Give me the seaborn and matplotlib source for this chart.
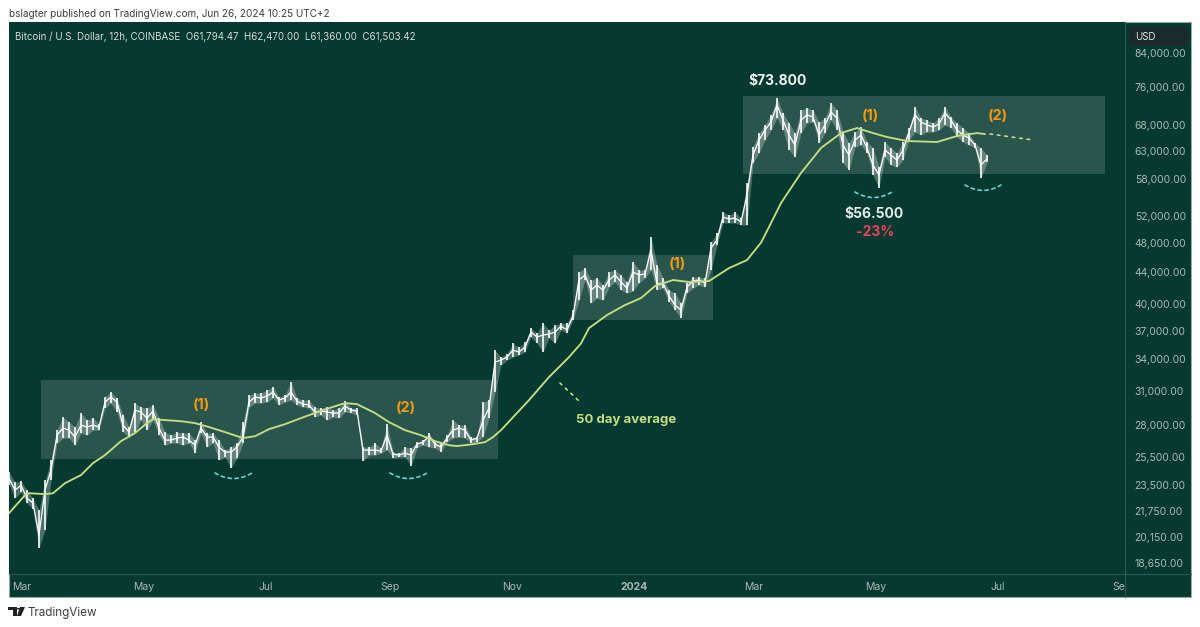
#!/usr/bin/env python3
"""Bitcoin 12h chart, TradingView look, dark green."""

import matplotlib
matplotlib.use("Agg")
import matplotlib.pyplot as plt
import matplotlib.dates as mdates
from matplotlib.patches import Rectangle, FancyBboxPatch, Polygon, Circle
from matplotlib.transforms import Bbox
import pandas as pd
import seaborn as sns

# one bar every 3 days from the left edge of the chart
first_bar = "2023-02-22 12:00"
bar_step_days = 3

highs = [
    24400, 23670, 23740, 23120, 22580, 21790, 23810, 25260, 27600, 28680,
    28260, 27850, 29030, 28430, 28600, 28090, 30430, 30880, 30340, 28850,
    27850, 29890, 29540, 29450, 29720, 28600, 27440, 27190, 27440, 27360,
    27360, 26800, 28260, 27360, 27360, 26800, 26020, 26250, 26560, 28260,
    30610, 30790, 30790, 31060, 31350, 30430, 30610, 31810, 30340, 30160,
    30160, 29540, 29450, 29540, 29280, 29450, 30070, 29450, 29450, 26250,
    26250, 26560, 26180, 28090, 25870, 25790, 26250, 26180, 26640, 26800,
    27360, 26640, 26560, 27190, 28430, 28010, 28010, 27040, 27040, 29980,
    30160, 34960, 34240, 34600, 35650, 35250, 35790, 37300, 36760, 37850,
    37090, 37630, 37850, 37850, 39340, 44010, 44530, 42990, 43240, 42350,
    44010, 44270, 43630, 42740, 45330, 44270, 44270, 48800, 44930, 43240,
    41730, 41360, 40160, 42610, 43370, 43370, 43240, 48080, 49380, 52540,
    52070, 52540, 51630, 57240, 63670, 66340, 67950, 69970, 73580, 70380,
    68330, 66340, 71010, 71440, 71010, 68530, 69350, 72490, 71010, 66540,
    64420, 66540, 67540, 64610, 63480, 60000, 64610, 63480, 62530, 64610,
    67340, 71650, 69350, 68940, 68330, 69350, 71650, 69560, 68330, 67340,
    66340, 64420, 63480, 62170,
]
lows = [
    23500, 22580, 22980, 22250, 21860, 19490, 20540, 23810, 26560, 26960,
    26960, 26400, 27360, 27190, 27600, 27600, 29450, 29890, 29110, 27440,
    27040, 27440, 28430, 27600, 28430, 27190, 26400, 26560, 26560, 26400,
    26560, 25790, 27360, 26250, 26560, 25260, 25490, 24680, 25410, 26560,
    29540, 29890, 29890, 29980, 30340, 29720, 29980, 30160, 29720, 29540,
    29450, 28680, 28850, 28430, 28680, 28600, 29110, 29030, 28850, 25190,
    25640, 25640, 25790, 26020, 25410, 25490, 25490, 24820, 26180, 26400,
    26250, 26180, 25870, 26640, 26960, 27040, 26960, 26560, 26640, 27040,
    28600, 30880, 33440, 33940, 34240, 34440, 34760, 36330, 35650, 34760,
    36220, 35650, 37090, 36760, 38200, 40520, 42990, 40160, 40760, 40520,
    42100, 42740, 41730, 41360, 41600, 42610, 43240, 44270, 41730, 41980,
    40280, 39340, 38430, 41360, 41980, 42350, 42100, 44270, 47660, 50870,
    50870, 50870, 50570, 50570, 60720, 62530, 64990, 66940, 69350, 66940,
    63100, 61810, 66340, 68330, 68530, 64420, 66340, 68940, 66940, 60720,
    59480, 63670, 64030, 62530, 58610, 56410, 61810, 60360, 60000, 61260,
    64990, 66540, 65960, 66540, 66540, 66940, 67950, 67340, 65570, 64610,
    64030, 63480, 58120, 60900,
]
closes = [
    23950, 23120, 23460, 22580, 22250, 20240, 23120, 24530, 27190, 27770,
    27600, 27040, 28010, 27850, 28010, 27850, 29980, 30430, 29980, 28010,
    27440, 29280, 29110, 28600, 29200, 27770, 26800, 26800, 26960, 27040,
    26800, 26400, 27770, 27040, 27040, 26250, 25870, 25870, 26250, 27040,
    29980, 30430, 30340, 30520, 30880, 30160, 30340, 30880, 30070, 29800,
    29720, 29110, 29200, 29110, 29030, 29030, 29630, 29280, 29200, 26020,
    26020, 26020, 25950, 27190, 25720, 25640, 25790, 25640, 26480, 26640,
    27110, 26480, 26250, 26960, 27600, 27770, 27600, 26800, 26960, 28430,
    29450, 33740, 33940, 34240, 34960, 34760, 35250, 36870, 36330, 36540,
    36650, 36870, 37520, 37090, 38660, 42990, 43630, 41730, 42350, 41730,
    42990, 43630, 42740, 41980, 44010, 43630, 43760, 46970, 42480, 42610,
    41000, 39930, 39340, 42100, 42860, 42990, 42610, 47250, 48370, 51780,
    51470, 51630, 51010, 55250, 62170, 64990, 66940, 68530, 72060, 68940,
    65960, 64030, 68940, 70000, 69560, 65960, 67950, 70580, 69350, 64030,
    62170, 64990, 65960, 63480, 60360, 58610, 63100, 62170, 61260, 63100,
    66540, 70000, 68530, 67950, 67540, 68130, 70380, 68940, 66940, 65960,
    65380, 64030, 60360, 61503,
]

# 50 day average, read at days after first_bar
ma_days = [
    0, 8, 10, 18, 22, 28, 36, 42, 48, 56,
    63, 69, 72, 78, 86, 93, 100, 108, 117, 123,
    130, 138, 146, 153, 160, 168, 174, 183, 190, 198,
    206, 213, 220, 224, 232, 238, 242, 246, 260, 270,
    280, 286, 290, 299, 308, 316, 323, 332, 340, 350,
    360, 369, 376, 380, 386, 396, 406, 416, 424, 432,
    439, 449, 464, 474, 484, 488,
]
ma_values = [
    21600, 22780, 22910, 22850, 22910, 23600, 24170, 25040, 25640, 26720,
    27360, 28180, 28510, 28430, 28340, 28180, 27850, 27440, 26960, 27110,
    27680, 28090, 28600, 29030, 29450, 29890, 29800, 29030, 28260, 27600,
    27190, 26720, 26400, 26330, 26480, 26640, 27040, 27600, 30160, 32280,
    34240, 35650, 37300, 38770, 39930, 40760, 42230, 42990, 42740, 42860,
    44530, 45600, 48000, 50270, 53960, 58960, 63480, 66340, 67340, 66340,
    65570, 64800, 64610, 65770, 66340, 66140,
]

# shaded ranges: days after first_bar and price limits
zone_start_days = [16, 282, 367]
zone_end_days = [244.5, 352, 548]
zone_tops = [32000, 46280, 74010]
zone_bottoms = [25340, 38200, 58790]

price_ticks = [
    84000, 76000, 68000, 63000, 58000, 52000, 48000, 44000, 40000, 37000,
    34000, 31000, 28000, 25500, 23500, 21750, 20150, 18650,
]
month_ticks = [
    "2023-03-01", "2023-05-01", "2023-07-01", "2023-09-01", "2023-11-01",
    "2024-01-01", "2024-03-01", "2024-05-01", "2024-07-01", "2024-09-01",
]
month_labels = ["Mar", "May", "Jul", "Sep", "Nov", "2024", "Mar", "May", "Jul", "Sep"]

BG = "#06392f"
LIME = "#c3dd82"
ORANGE = "#f29a12"
TEAL = "#6ed3d3"
AXIS_TXT = "#a9bab5"
W, H = 1200, 627

sns.set_theme(style="dark")
plt.rcParams["font.family"] = ["Inter", "DejaVu Sans"]


def fx(px):
    return px / W


def fy(py):
    return 1 - py / H


fig = plt.figure(figsize=(12, 6.27), dpi=100, facecolor="white")
# panel behind the chart and both axis strips
fig.patches.append(Rectangle((fx(9), fy(597)), fx(1182), 575 / H, transform=fig.transFigure,
                             facecolor=BG, edgecolor="#93aaa5", linewidth=0.8, zorder=0))
ax = fig.add_axes([fx(9), fy(574), fx(1116), 552 / H])
ax.set_zorder(1)
ax.set_facecolor(BG)

start = pd.Timestamp(first_bar)
bar_dates = pd.date_range(start, periods=len(closes), freq=f"{bar_step_days}D")
ma_dates = start + pd.to_timedelta(ma_days, unit="D")

# shaded ranges
for s, e, top, bottom in zip(zone_start_days, zone_end_days, zone_tops, zone_bottoms):
    x0 = mdates.date2num(start + pd.Timedelta(days=s))
    x1 = mdates.date2num(start + pd.Timedelta(days=e))
    ax.add_patch(Rectangle((x0, bottom), x1 - x0, top - bottom, facecolor="white",
                           alpha=0.145, edgecolor="none", zorder=1))

# bars: faint band between low and high so the dense candles read as one mass
ax.fill_between(bar_dates, lows, highs, color="white", alpha=0.28, linewidth=0, zorder=2)
ax.vlines(bar_dates, lows, highs, color="white", linewidth=1.3, alpha=0.9, zorder=2)
sns.lineplot(x=bar_dates, y=closes, ax=ax, color="white", linewidth=0.9, zorder=3)
sns.lineplot(x=ma_dates, y=ma_values, ax=ax, color=LIME, linewidth=1.35, zorder=4)

ax.set_yscale("log")
ax.set_ylim(18050, 92080)
ax.set_xlim(start, start + pd.Timedelta(days=558))
ax.set_xlabel("")
ax.set_ylabel("")
ax.grid(False)

ax.yaxis.tick_right()
ax.set_yticks(price_ticks)
ax.set_yticklabels([f"{p:,.2f}" for p in price_ticks])
ax.minorticks_off()
ax.tick_params(axis="y", length=0, pad=7, labelsize=7.5, labelcolor=AXIS_TXT)
ax.set_xticks(pd.to_datetime(month_ticks))
ax.set_xticklabels(month_labels)
ax.tick_params(axis="x", length=0, pad=6, labelsize=7.5, labelcolor=AXIS_TXT)
clip_box = Bbox([[0, 0], [1125, H]])
for lab in ax.get_xticklabels():
    lab.set_clip_on(True)
    lab.set_clip_box(clip_box)
    if lab.get_text() == "2024":
        lab.set_fontweight("bold")

for name, spine in ax.spines.items():
    spine.set_visible(name in ("right", "bottom"))
    spine.set_color("#2f5a51")
    spine.set_linewidth(0.8)
# axis dividers run on through the strips
fig.add_artist(plt.Line2D([fx(1125), fx(1125)], [fy(574), fy(597)], color="#2f5a51", linewidth=0.8))
fig.add_artist(plt.Line2D([fx(1125), fx(1191)], [fy(574), fy(574)], color="#2f5a51", linewidth=0.8))


def label(px, py, text, color, size, weight="bold", ha="center"):
    fig.text(fx(px), fy(py), text, color=color, fontsize=size, fontweight=weight,
             ha=ha, va="center")


label(201, 405, "(1)", ORANGE, 10.5)
label(406, 408, "(2)", ORANGE, 10.5)
label(677, 264, "(1)", ORANGE, 10.5)
label(870, 116, "(1)", ORANGE, 10.5)
label(998, 116, "(2)", ORANGE, 10.5)
label(778, 81, "$73.800", "#eef3f1", 10)
label(874, 214, "$56.500", "#e4ebe8", 10)
label(875, 232, "-23%", "#e5455c", 10)
label(626, 420, "50 day average", LIME, 9.5)
label(9, 14, "bslagter published on TradingView.com, Jun 26, 2024 10:25 UTC+2", "#3a3d40", 7.2,
      weight="normal", ha="left")
label(15, 37, "Bitcoin / U.S. Dollar, 12h, COINBASE  O61,794.47  H62,470.00  L61,360.00  C61,503.42",
      "#d3dcd9", 7.0, weight="normal", ha="left")
label(28, 613, "TradingView", "#3a3d40", 8.4, weight="normal", ha="left")

# USD badge on the price strip
fig.patches.append(FancyBboxPatch((fx(1129), fy(46)), fx(59), 19 / H, transform=fig.transFigure,
                                  boxstyle="round,pad=0,rounding_size=0.002", facecolor="#1b2b2c",
                                  edgecolor="none", zorder=2))
label(1145, 37, "USD", "#dfe5e3", 7.0, weight="normal")

# logo
for pts in ([(8, 607), (17, 607), (17, 616), (13, 616), (13, 610), (8, 610)],
            [(20, 607), (25, 607), (21, 616), (17, 616)]):
    fig.patches.append(Polygon([(fx(a), fy(b)) for a, b in pts], closed=True,
                               transform=fig.transFigure, facecolor="#202225", edgecolor="none"))
fig.patches.append(Circle((fx(18.5), fy(608.7)), 1.6 / W, transform=fig.transFigure,
                          facecolor="#202225", edgecolor="none"))


def dashed(p0, p1, color, rad=0.0, lw=1.2, dash=(2, 2.2)):
    ax.annotate("", xy=(p1[0], H - p1[1]), xytext=(p0[0], H - p0[1]),
                xycoords="figure pixels", textcoords="figure pixels", zorder=6,
                arrowprops=dict(arrowstyle="-", color=color, lw=lw, linestyle=(0, dash),
                                shrinkA=0, shrinkB=0, connectionstyle=f"arc3,rad={rad}"))


# dashed cups under the lows
for x0, x1, yy in [(215, 252, 473), (390, 427, 473), (855, 892, 192), (965, 1001, 185)]:
    dashed((x0, yy), (x1, yy), TEAL, rad=0.3)
# pointer to the average and its extension
dashed((560, 383), (580, 402), LIME, dash=(1.5, 3))
dashed((990, 134), (1033, 140), LIME, dash=(1.5, 3))

fig.savefig("out.png", dpi=100, facecolor="white")
